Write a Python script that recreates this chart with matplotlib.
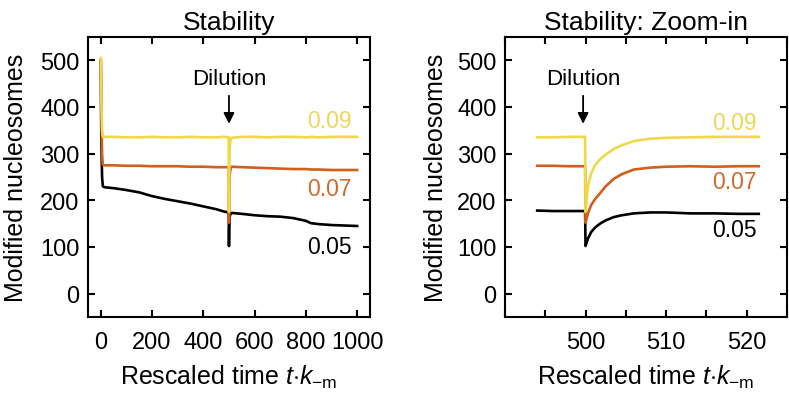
import matplotlib
matplotlib.use("Agg")
import matplotlib.pyplot as plt
from matplotlib.ticker import MultipleLocator, FuncFormatter

plt.rcParams['font.family'] = ['Liberation Sans', 'DejaVu Sans']
plt.rcParams['mathtext.fontset'] = 'custom'
plt.rcParams['mathtext.rm'] = 'Liberation Sans'
plt.rcParams['mathtext.it'] = 'Liberation Sans:italic'

# full run (left panel)
t_full = [0, 2, 5, 8, 15, 50, 100, 150, 200, 250, 300, 350, 400, 450, 480, 499,
          500, 501, 503, 506, 510, 550, 600, 650, 700, 750, 800, 820, 850, 900, 950, 1000]
black_full = [500, 330, 250, 230, 228, 226, 222, 217, 209, 203, 198, 193, 187, 181, 176, 174,
              102, 140, 165, 172, 173, 171, 168, 166, 165, 162, 156, 151, 149, 147, 146, 145]
orange_full = [500, 400, 300, 276, 275, 275, 274, 274, 273, 273, 273, 272, 272, 271, 271, 271,
               152, 215, 255, 267, 272, 271, 270, 269, 268, 267, 267, 266, 266, 265, 265, 265]
yellow_full = [505, 420, 350, 336, 336, 336, 335, 335, 336, 335, 335, 336, 335, 335, 336, 335,
               175, 280, 315, 328, 334, 336, 336, 335, 336, 336, 335, 336, 335, 336, 336, 336]

# zoom around the dilution (right panel)
t_zoom = [494, 496, 498, 499.95, 500.0, 500.3, 500.7, 501.2, 501.8, 502.5, 503.5, 504.5,
          506, 508, 510, 513, 516, 519, 521.5]
black_zoom = [178, 177, 177, 177, 102, 118, 132, 142, 150, 157, 164, 168,
              172, 174, 174, 172, 172, 171, 171]
orange_zoom = [274, 274, 273, 273, 152, 172, 190, 203, 215, 230, 246, 256,
               266, 270, 272, 273, 272, 273, 273]
yellow_zoom = [335, 335, 336, 336, 175, 230, 258, 276, 288, 298, 310, 318,
               327, 332, 334, 335, 336, 336, 336]

labels = ['0.05', '0.07', '0.09']
colors = ['#000000', '#D0601C', '#F0D84A']
text_colors = ['#000000', '#CF6A2E', '#EED65A']

fig = plt.figure(figsize=(7.89, 4.02), dpi=100)
ax1 = fig.add_axes([0.1115, 0.209, 0.3574, 0.6965])
ax2 = fig.add_axes([0.640, 0.209, 0.3574, 0.6965])

for ys, c in zip([black_full, orange_full, yellow_full], colors):
    ax1.plot(t_full, ys, color=c, lw=1.9)
for ys, c in zip([black_zoom, orange_zoom, yellow_zoom], colors):
    ax2.plot(t_zoom, ys, color=c, lw=1.9)

ax1.set_xlim(-50, 1050)
ax2.set_xlim(490, 525)
ax1.xaxis.set_major_locator(MultipleLocator(200))
ax2.xaxis.set_major_locator(MultipleLocator(5))
ax2.xaxis.set_major_formatter(FuncFormatter(lambda v, p: f"{v:.0f}" if v in (500, 510, 520) else ""))

for ax, title, lp in [(ax1, 'Stability', 9), (ax2, 'Stability: Zoom-in', 7)]:
    ax.set_ylim(-50, 550)
    ax.yaxis.set_major_locator(MultipleLocator(100))
    ax.tick_params(direction='in', top=True, right=True, length=5, width=1.5,
                   labelsize=17)
    ax.tick_params(axis='x', pad=10)
    ax.tick_params(axis='y', pad=6)
    for s in ax.spines.values():
        s.set_linewidth(1.5)
    ax.set_title(title, fontsize=19, pad=6)
    ax.set_ylabel('Modified nucleosomes', fontsize=18, labelpad=lp)
    ax.set_xlabel(r'Rescaled time $t{\cdot}k_{\mathrm{-m}}$', fontsize=18, labelpad=7)

# dilution markers
for ax, tx in [(ax1, 500), (ax2, 499.7)]:
    ax.text(tx, 462, 'Dilution', ha='center', va='center', fontsize=16)
    ax.annotate('', xy=(tx, 358), xytext=(tx, 430),
                arrowprops=dict(arrowstyle='-|>', color='k', lw=1.3, mutation_scale=16))

# series labels
for lab, tc, y in zip(labels, text_colors, [102, 226, 372]):
    ax1.text(980, y, lab, color=tc, ha='right', va='center', fontsize=16.5)
for lab, tc, y in zip(labels, text_colors, [137, 241, 367]):
    ax2.text(521.2, y, lab, color=tc, ha='right', va='center', fontsize=16.5)

fig.savefig('out.png', dpi=100)
